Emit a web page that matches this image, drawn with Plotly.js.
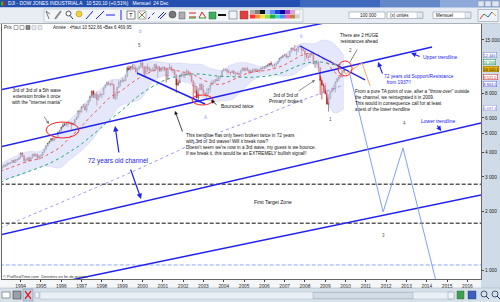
<!DOCTYPE html>
<html><head><meta charset="utf-8">
<script src="https://cdn.plot.ly/plotly-3.0.1.min.js"></script>
<style>html,body{margin:0;padding:0;background:#fff;}#chart{width:500px;height:302px;}</style>
</head><body><div id="chart"></div>
<script>
// ---------- DATA (monthly DJI, Jan 1993 - Dec 2009) ----------
const startYear = 1993;
const opens = [
3301,3310,3370,3435,3428,3527,3516,3540,3651,3555,3681,3684,
3754,3978,3832,3636,3682,3758,3625,3765,3913,3843,3908,3739,
3834,3844,4011,4158,4321,4465,4556,4709,4611,4789,4756,5075,
5117,5395,5486,5587,5569,5643,5655,5529,5616,5882,6029,6522,
6448,6813,6878,6584,7009,7331,7673,8223,7622,7945,7442,7823,
7908,7907,8546,8800,9063,8900,8952,8883,7539,7843,8592,9117,
9181,9359,9307,9786,10789,10560,10971,10655,10829,10337,10729,10878,
11497,10941,10128,10922,10734,10522,10448,10522,11215,10651,10971,10415,
10787,10887,10495,9879,10735,10912,10502,10523,9950,8848,9075,9852,
10021,9920,10106,10404,9946,9925,9243,8737,8664,7592,8397,8896,
8342,8054,7891,7992,8480,8850,8985,9234,9416,9275,9801,9782,
10454,10488,10584,10358,10226,10188,10435,10140,10174,10080,10027,10428,
10783,10490,10766,10504,10193,10467,10275,10641,10482,10569,10440,10806,
10718,10865,10993,11109,11367,11168,11150,11186,11381,11679,12081,12222,
12463,12622,12269,12354,13063,13628,13409,13212,13358,13896,13930,13372,
13265,12650,12266,12263,12820,12638,11350,11378,11544,10851,9325,8829,
8776,8001,7063,7609,8168,8500,8447,9172,9496,9712,9713,10345];
const highs = [
3340,3450,3480,3490,3555,3560,3580,3660,3670,3700,3720,3800,
3990,3990,3900,3730,3790,3820,3790,3930,3980,3960,3920,3880,
3930,4030,4170,4330,4470,4590,4730,4720,4800,4810,5110,5220,
5400,5680,5690,5700,5800,5730,5730,5720,5900,6100,6560,6600,
6880,7080,7110,7070,7400,7800,8260,8300,8000,8180,7900,8150,
7990,8560,8900,9200,9210,9070,9370,8960,8170,8650,9400,9380,
9650,9560,10010,11000,11110,11000,11250,11330,11100,10800,11090,11570,
11750,11040,11140,11400,11040,10830,10870,11320,11400,11000,11010,10900,
11000,11000,10860,10850,11350,11110,10690,10610,9990,9420,9950,10200,
10260,10160,10670,10500,10360,9990,9410,9080,8740,8540,9040,9040,
8870,8110,8520,8520,8900,9330,9340,9460,9690,9840,9880,10480,
10750,10750,10700,10600,10330,10500,10440,10240,10370,10240,10580,10870,
10860,10850,10980,10620,10560,10720,10720,10720,10720,10600,10940,10990,
11050,11140,11340,11420,11670,11240,11250,11400,11730,12160,12360,12530,
12660,12800,12480,13120,13690,13690,14120,13660,14000,14200,13940,13800,
13280,12770,12620,12890,13140,12640,11700,11870,11790,10880,9650,9030,
9090,8280,7930,8220,8580,8880,9200,9630,9920,10120,10500,10523];
const lows = [
3240,3300,3370,3370,3420,3460,3480,3530,3530,3550,3600,3670,
3730,3800,3590,3520,3620,3610,3620,3730,3820,3780,3670,3660,
3810,3840,3990,4150,4300,4430,4540,4560,4600,4700,4750,5040,
5000,5380,5460,5420,5400,5580,5170,5500,5560,5860,6010,6240,
6400,6760,6560,6390,6950,7230,7640,7600,7580,6940,7380,7650,
7550,7870,8500,8750,8850,8630,8850,7500,7400,7470,8550,8690,
9100,9130,9300,9700,10470,10400,10620,10600,10190,9880,10540,10860,
10640,9730,9790,10300,10300,10300,10400,10500,10580,9650,10300,10300,
10400,10400,9100,9390,10600,10390,10150,9890,8060,8750,9060,9700,
9620,9570,10060,9910,9800,9120,7530,8040,7580,7200,8290,8300,
7950,7700,7420,7930,8130,8800,8960,9000,9260,9280,9500,9760,
10390,10400,10000,10190,9850,10180,9920,9780,10000,9710,10020,10400,
10360,10370,10400,10010,10100,10260,10250,10350,10360,10160,10400,10660,
10660,10750,10900,11000,11030,10700,10680,10940,11300,11640,11980,12150,
12350,12120,11940,12330,13050,13250,13200,12520,12980,13690,12720,13130,
11630,12040,11730,12200,12480,11290,10830,11200,10360,7880,7450,8120,
7910,7000,6470,7470,8090,8220,8090,9110,9250,9680,9680,10230];
const closes = [
3310,3370,3435,3428,3527,3516,3540,3651,3555,3681,3684,3754,
3978,3832,3636,3682,3758,3625,3765,3913,3843,3908,3739,3834,
3844,4011,4158,4321,4465,4556,4709,4611,4789,4756,5075,5117,
5395,5486,5587,5569,5643,5655,5529,5616,5882,6029,6522,6448,
6813,6878,6584,7009,7331,7673,8223,7622,7945,7442,7823,7908,
7907,8546,8800,9063,8900,8952,8883,7539,7843,8592,9117,9181,
9359,9307,9786,10789,10560,10971,10655,10829,10337,10729,10878,11497,
10941,10128,10922,10734,10522,10448,10522,11215,10651,10971,10415,10787,
10887,10495,9879,10735,10912,10502,10523,9950,8848,9075,9852,10021,
9920,10106,10404,9946,9925,9243,8737,8664,7592,8397,8896,8342,
8054,7891,7992,8480,8850,8985,9234,9416,9275,9801,9782,10454,
10488,10584,10358,10226,10188,10435,10140,10174,10080,10027,10428,10783,
10490,10766,10504,10193,10467,10275,10641,10482,10569,10440,10806,10718,
10865,10993,11109,11367,11168,11150,11186,11381,11679,12081,12222,12463,
12622,12269,12354,13063,13628,13409,13212,13358,13896,13930,13372,13265,
12650,12266,12263,12820,12638,11350,11378,11544,10851,9325,8829,8776,
8001,7063,7609,8168,8500,8447,9172,9496,9712,9713,10345,10520];

// Indicators, read at half-year points
const bandDates = [1993.0,1993.42,1993.92,1994.42,1994.92,1995.42,1995.92,1996.42,1996.92,1997.42,1997.92,1998.42,1998.92,1999.42,1999.92,2000.42,2000.92,2001.42,2001.92,2002.42,2002.92,2003.42,2003.92,2004.42,2004.92,2005.42,2005.92,2006.42,2006.92,2007.42,2007.92,2008.42,2008.92,2009.42,2009.92];
const bbUpper = [3500,3700,3900,4050,4050,4500,5137,5868,6640,7624,8377,9373,9523,10791,11914,11721,11570,11419,11428,11291,11263,10693,10536,11270,11531,11296,10937,11378,12407,13758,14428,14352,14995,14375,12440];
const bbLower = [2900,2950,3050,3200,3380,3400,3337,3668,4040,4504,5257,5973,6923,7191,7514,8921,9770,9819,9228,8891,7663,7293,7336,7470,8331,9296,9937,9978,9807,9958,10828,11352,8995,6375,6697];
const ma20 = [3200,3325,3475,3625,3715,3950,4237,4768,5340,6064,6817,7673,8223,8991,9714,10321,10670,10619,10328,10091,9463,8993,8936,9370,9931,10296,10437,10678,11107,11858,12628,12852,11995,10375,9521];
const ma50 = [2814,2950,3078,3210,3350,3522,3746,4034,4360,4801,5314,5911,6480,7205,7947,8582,9171,9618,9875,10056,10038,9892,9781,9745,9692,9682,9762,9913,10259,10818,11332,11594,11532,11241,11206];
const ma200Dates = [1993.0,1999.14,2003.47,2005.3,2007.76,2009.24,2009.92];
const ma200 = [1648,3072,4914,5791,7324,8337,8863];

// Drawn trend lines / levels (year, value)
const upperChannelX = [1992.98, 2016.7],  upperChannelY = [8340, 26850];
const midChannelX   = [1992.98, 2014.26], midChannelY   = [4267, 13815];
const lowerChannelX = [1992.98, 2016.68], lowerChannelY = [1518, 5656];
const baseChannelX  = [1992.98, 2016.68], baseChannelY  = [752, 2428];
const fall2000X = [1999.73, 2003.08], fall2000Y = [10179, 7071];
const fall2007X = [2007.76, 2010.96], fall2007Y = [13978, 9376];
const projX = [2010.22, 2011.85, 2012.83, 2014.56], projY = [9943, 1988, 4217, 795];
const orangeX = [2009.24, 2010.03, 2010.81, 2011.21], orangeY = [11858, 10060, 11455, 8740];
const targetLevels = [2753, 1741];
const blueLevel = [1067];

const yearTicks = [1994,1995,1996,1997,1998,1999,2000,2001,2002,2003,2004,2005,2006,2007,2008,2009,2010,2011,2012,2013,2014,2015,2016];
const priceTicks = [1000,2000,3000,4000,5000,6000,8000,15000];
const priceTickText = ['1 000','2 000','3 000','4 000','5 000','6 000','8 000','15 000'];
const sideLabels = ['12 440','11 206','10 520,1','9 521,0','8 863,5','6 697,3'];

// ---------- BUILD ----------
const FONT = 'Liberation Sans, Arial, sans-serif';
const months = closes.map((_, i) => startYear + i / 12);
const X0 = 1993.08, X1 = 2016.67;
const BLUE = '#2020f0', LBLUE = '#7ea0ff';

function ln(x, y, color, width, dash, shape) {
  return {type:'scatter', mode:'lines', x, y, line:{color, width, dash: dash || 'solid', shape: shape || 'linear'}, hoverinfo:'skip', showlegend:false};
}
const traces = [
  ln(bandDates, bbLower, 'rgba(170,175,235,0.5)', 0.5, 'solid', 'spline'),
  Object.assign(ln(bandDates, bbUpper, 'rgba(170,175,235,0.5)', 0.5, 'solid', 'spline'), {fill:'tonexty', fillcolor:'rgba(212,215,247,0.6)'}),
  ln(ma200Dates, ma200, '#8c8cf0', 0.9, 'dot', 'spline'),
  ln(bandDates, ma50, '#1faa78', 1, 'dot', 'spline'),
  ln(bandDates, ma20, '#ee5a5a', 1, 'dot', 'spline'),
  {type:'candlestick', x:months, open:opens, high:highs, low:lows, close:closes, whiskerwidth:0,
   increasing:{line:{color:'#3a3a3a', width:0.6}, fillcolor:'#ffffff'},
   decreasing:{line:{color:'#b00000', width:0.6}, fillcolor:'#ff1010'}, hoverinfo:'skip', showlegend:false},
  ln([X0 - 1, X1 + 1], [targetLevels[0], targetLevels[0]], '#5a5a5a', 1.5, '4px,2px'),
  ln([X0 - 1, X1 + 1], [targetLevels[1], targetLevels[1]], '#5a5a5a', 1.5, '4px,2px'),
  ln([X0 - 1, X1 + 1], [blueLevel[0], blueLevel[0]], '#8aa6ff', 1, '4px,2px'),
  ln(upperChannelX, upperChannelY, BLUE, 1.5),
  ln(midChannelX, midChannelY, BLUE, 1.5),
  ln(lowerChannelX, lowerChannelY, BLUE, 1.5),
  ln(baseChannelX, baseChannelY, BLUE, 1.5),
  ln(fall2000X, fall2000Y, BLUE, 1.4),
  ln(fall2007X, fall2007Y, BLUE, 1.4),
  ln(projX, projY, LBLUE, 1),
  ln(orangeX, orangeY, '#ff9a55', 0.9)
];

// paper helpers for the surrounding application chrome
const PX = x => (x - 2) / 479, PY = y => (279 - y) / 255;
function rect(x0, y0, x1, y1, fill, line, lw, layer) {
  return {type:'rect', xref:'paper', yref:'paper', x0:PX(x0), x1:PX(x1), y0:PY(y1), y1:PY(y0),
    fillcolor:fill, line:{color:line || fill, width: lw == null ? 0 : lw}, layer: layer || 'above'};
}
function seg(x0, y0, x1, y1, color, w, dash) {
  return {type:'line', xref:'paper', yref:'paper', x0:PX(x0), x1:PX(x1), y0:PY(y0), y1:PY(y1), line:{color, width:w || 1, dash: dash || 'solid'}, layer:'above'};
}
function circ(x0, y0, x1, y1, fill, line, lw) {
  return {type:'circle', xref:'paper', yref:'paper', x0:PX(x0), x1:PX(x1), y0:PY(y1), y1:PY(y0), fillcolor:fill, line:{color:line, width:lw || 0.6}, layer:'above'};
}
function ptxt(text, x, y, size, color, anchor) {
  return {xref:'paper', yref:'paper', x:PX(x), y:PY(y), text, showarrow:false, xanchor:anchor || 'left', yanchor:'middle',
    borderpad:0, font:{family:FONT, size:size || 5, color:color || '#111'}};
}

const shapes = [
  // ellipses drawn on the chart
  {type:'circle', xref:'x', yref:'y', x0:1995.25, x1:1996.87, y0:4745, y1:5724, line:{color:'#ff2020', width:1}, layer:'above'},
  {type:'circle', xref:'x', yref:'y', x0:2002.44, x1:2003.47, y0:6988, y1:7862, line:{color:'#ff2020', width:1}, layer:'above'},
  {type:'circle', xref:'x', yref:'y', x0:2009.63, x1:2010.32, y0:9827, y1:11722, line:{color:'#ff2020', width:1}, layer:'above'},
  // right price panel
  rect(481, 23.5, 500, 288, '#cfdbe6', null, 0, 'below'),
  // title bar
  rect(0, 0, 500, 7.5, '#2350b0'),
  rect(300, 0, 380, 7.5, '#3e68bc'),
  rect(380, 0, 440, 7.5, '#6387c8'),
  rect(440, 0, 500, 7.5, '#8eaadb'),
  rect(1, 1.5, 3, 5.5, '#20c020'), rect(3, 1.5, 5, 5.5, '#e02020'),
  rect(478, 1, 484, 6.5, '#dfe6ef', '#7f93b5', 0.5), rect(485, 1, 491, 6.5, '#dfe6ef', '#7f93b5', 0.5), rect(492, 1, 499, 6.5, '#dfe6ef', '#7f93b5', 0.5),
  // top toolbar
  rect(0, 7.5, 500, 23.5, '#e7edf3'),
  seg(0, 23.5, 500, 23.5, '#aab6c2', 0.6),
  rect(44, 9, 303, 22, '#f3f6f9', '#aeb9c5', 0.6),
  seg(46, 11, 49, 19, '#555', 0.8), seg(46, 11, 50, 14, '#555', 0.8),
  seg(55, 19, 61, 11, '#8a8a8a', 2),
  circ(66, 11, 71, 16, 'rgba(0,0,0,0)', '#333', 0.8), seg(70, 15.5, 73, 19, '#333', 1),
  circ(76, 11, 82, 17, '#f4d23c', '#a08000', 0.5),
  seg(86, 19, 93, 11, BLUE, 1), seg(96, 19, 104, 11, BLUE, 1),
  seg(106, 15, 115, 15, BLUE, 1), seg(121, 10, 121, 20, BLUE, 1),
  rect(127, 11, 135, 19, '#ffffff', '#333', 0.6),
  rect(138, 11, 146, 19, '#ffffff', '#555', 0.5), seg(139, 18, 145, 12, '#20a020', 1), seg(139, 12, 145, 18, '#e02020', 0.7),
  seg(148, 19, 156, 11, BLUE, 1, 'dot'), seg(158, 18, 164, 12, BLUE, 1), seg(160, 19, 166, 13, BLUE, 1),
  circ(169, 11, 176, 18, '#777', '#333', 0.5),
  rect(179, 12, 185, 19, '#b0b0b0', '#555', 0.5),
  seg(189, 13, 196, 13, '#e02020', 1), seg(189, 17, 196, 17, '#e02020', 1), seg(189, 18, 196, 18, '#20a020', 1),
  seg(199, 18, 202, 12, '#e02020', 1), seg(202, 12, 206, 18, '#e02020', 1), seg(199, 18, 206, 18, '#20a020', 1),
  rect(209, 12, 216, 19, '#40b060', '#206030', 0.5),
  seg(218, 15, 226, 15, '#111', 2),
  rect(229, 11, 237, 19, '#f0f4f8', '#567', 0.6),
  rect(240, 11, 248, 19, '#e04040', '#933', 0.5),
  // colour palette
  rect(250, 10, 255, 14, '#b0b0b0'), rect(255, 10, 260, 14, '#808080'), rect(260, 10, 265, 14, '#101010'),
  rect(265, 10, 270, 14, '#9fc8ff'), rect(270, 10, 275, 14, '#5a8cff'), rect(275, 10, 280, 14, '#1f40e0'),
  rect(280, 10, 285, 14, '#0000a0'), rect(285, 10, 290, 14, '#a040c0'), rect(290, 10, 295, 14, '#e0a0e0'),
  rect(295, 10, 300, 14, '#ffffff', '#bbb', 0.4),
  rect(250, 14.5, 255, 18.5, '#ff3030'), rect(255, 14.5, 260, 18.5, '#ff9040'), rect(260, 14.5, 265, 18.5, '#ffe040'),
  rect(265, 14.5, 270, 18.5, '#90e060'), rect(270, 14.5, 275, 18.5, '#20b040'), rect(275, 14.5, 280, 18.5, '#40d0d0'),
  rect(280, 14.5, 285, 18.5, '#4090ff'), rect(285, 14.5, 290, 18.5, '#ff60a0'), rect(290, 14.5, 295, 18.5, '#c08040'),
  rect(295, 14.5, 300, 18.5, '#d0d0d0'),
  // input boxes
  rect(349, 12, 385, 18.5, '#ffffff', '#8c9aa8', 0.6),
  rect(387, 12, 423, 18.5, '#ffffff', '#8c9aa8', 0.6), rect(417, 12.5, 422.5, 18, '#e4eaf0', '#9aa8b6', 0.4),
  rect(433, 12, 471, 18.5, '#ffffff', '#8c9aa8', 0.6), rect(465, 12.5, 470.5, 18, '#e4eaf0', '#9aa8b6', 0.4),
  rect(478, 9.5, 498, 21.5, '#eef3f8', '#8c9aa8', 0.6),
  seg(480, 19, 484, 14, '#e03030', 1), seg(484, 14, 488, 17, '#20a040', 1), seg(488, 17, 492, 12, '#3050e0', 1), seg(492, 12, 496, 16, '#e0a020', 1),
  // header row icons
  rect(14, 25.5, 18, 29.5, '#ffffff', '#555', 0.5), rect(20, 25.5, 24, 29.5, '#ffffff', '#555', 0.5),
  rect(26, 25.5, 30, 29.5, '#888', '#444', 0.5), rect(32, 25.5, 36, 29.5, '#e6ecf0', '#aab', 0.5), rect(38, 25.5, 42, 29.5, '#e6ecf0', '#aab', 0.5),
  // bottom toolbar
  rect(0, 288, 500, 302, '#d7e1ea'),
  seg(0, 288, 500, 288, '#aab6c2', 0.6),
  rect(2, 292, 10, 298, '#ffffff', '#555', 0.6),
  rect(13, 291, 21, 299, '#9aa0a8', '#444', 0.6),
  rect(23, 289, 33, 301, '#c3d2e6', '#7c90ac', 0.6), seg(25, 291, 31, 299, '#e02020', 1.3), seg(31, 291, 25, 299, '#e02020', 1.3),
  rect(35, 292, 39, 298, '#f0f4f8', '#8898a8', 0.5),
  rect(40, 292, 452, 299, '#eaf0f5', '#aab6c2', 0.5),
  rect(313, 292.5, 413, 298.5, '#d2dce6', '#9aa8b6', 0.5),
  rect(448, 292, 454, 299, '#f0f4f8', '#8898a8', 0.5),
  rect(457, 291, 464, 299, '#40a050', '#206030', 0.4),
  rect(468, 291, 476, 299, '#4060c0', '#203060', 0.4),
  circ(481, 291, 487, 297, 'rgba(0,0,0,0)', '#203060', 0.8), seg(486, 296, 489, 299, '#203060', 1),
  circ(492, 291, 498, 297, 'rgba(0,0,0,0)', '#203060', 0.8), seg(497, 296, 500, 299, '#203060', 1)
];

// multi-line note anchored at its middle (y given as log10 of price)
function note(lines, x, y, anchor, color, size) {
  return {xref:'x', yref:'y', x, y, text:lines.join('<br>'), showarrow:false, align:anchor === 'center' ? 'center' : 'left',
    xanchor:anchor, yanchor:'middle', borderpad:0, font:{family:FONT, size:size || 4.6, color:color || '#111'}};
}
function arrow(x, y, ax, ay, color, w, head, size) {
  return {xref:'x', yref:'y', x, y, ax, ay, axref:'pixel', ayref:'pixel', text:'', showarrow:true,
    arrowcolor:color, arrowwidth:w, arrowhead:head, arrowsize:size, standoff:0, startstandoff:0};
}
function wave(text, x, y, color) {
  return {xref:'x', yref:'y', x, y, text, showarrow:false, xanchor:'center', yanchor:'middle', borderpad:0, font:{family:FONT, size:4.5, color}};
}
function sideBox(text, y, color, bg, border) {
  return {xref:'paper', yref:'y', x:PX(482.5), y, text, showarrow:false, xanchor:'left', yanchor:'middle',
    font:{family:FONT, size:3.9, color}, bgcolor:bg, bordercolor:border, borderwidth:0.5, borderpad:0};
}

const annotations = [
  note(['3rd of 3rd of a 5th wave', 'extension broke it once', 'with the "internet mania"'], 1994.80, 3.8868, 'center'),
  note(['This trendline has only been broken twice in 72 years', 'with 3rd of 3rd waves! Will it break now?',
        "Doesn't seem we're now in a 3rd wave, my guess is we bounce.", 'If we break it, this would be an EXTREMELY bullish signal!!'],
       2002.09, 3.6411, 'left'),
  note(['From a pure TA point of vue, after a "throw-over" outside', 'the channel, we reintegrated it in 2009.',
        'This would in consequence call for at least', 'a test of the lower trendline'], 2010.42, 3.8699, 'left'),
  note(['There are 2 HUGE', 'resistances ahead'], 2010.67, 4.1819, 'center'),
  note(['3rd of 3rd of', 'Primary! broke it'], 2007.07, 3.8758, 'center'),
  note(['Bounced twice'], 2003.82, 3.8393, 'left', '#111', 5),
  note(['72 years old channel'], 1998.84, 3.5603, 'center', BLUE, 6.5),
  note(['72 years old Support/Resistance', '&nbsp;&nbsp;from 1937!!'], 2011.85, 3.9745, 'left', BLUE, 4.8),
  note(['Upper trendline'], 2013.77, 4.0893, 'left', BLUE, 5),
  note(['Lower trendline'], 2013.67, 3.7628, 'left', BLUE, 5),
  note(['First Target Zone'], 2005.44, 3.3480, 'left', '#111', 5),
  arrow(1995.395, 3.7475, -6, -9, '#777', 0.8, 2, 0.8),
  arrow(2003.375, 3.8699, 7, 6, '#111', 0.8, 2, 0.9),
  arrow(2001.60, 3.8138, 8, 22, '#111', 0.8, 2, 0.9),
  arrow(2008.50, 3.9720, -18, 12, '#777', 0.8, 2, 0.8),
  arrow(2010.22, 4.0638, 8, -14, '#333', 0.6, 0, 1),
  arrow(1998.65, 3.7373, 4, 28, BLUE, 1.2, 2, 0.9),
  arrow(1999.93, 3.3648, -11, -31, BLUE, 1.2, 2, 0.9),
  arrow(2011.60, 4.0638, 5, 13, BLUE, 1.1, 2, 0.9),
  arrow(2013.23, 4.1097, 10, 4, BLUE, 1.1, 2, 0.9),
  arrow(2014.71, 3.7118, -5, -7, BLUE, 1.1, 2, 0.9),
  wave('b', 1999.88, 4.2220, LBLUE), wave('5', 1999.83, 4.1455, '#555'),
  wave('b', 2007.81, 4.1914, LBLUE), wave('2', 2010.22, 4.1250, '#555'),
  wave('A', 2003.08, 3.7832, LBLUE), wave('1', 2009.24, 3.7679, '#555'),
  wave('4', 2012.88, 3.7475, '#555'), wave('3', 2011.85, 3.1761, '#555'),
  sideBox(sideLabels[0], 4.0995, '#3050c0', '#ffffff', '#6a7ed0'),
  sideBox(sideLabels[1], 4.0613, '#1a9060', '#eaf6ef', '#1a9060'),
  sideBox(sideLabels[2], 4.0256, '#111', '#e8b400', '#8a6a00'),
  sideBox(sideLabels[3], 3.9898, '#d02020', '#ffffff', '#d02020'),
  sideBox(sideLabels[4], 3.9541, '#3030e0', '#ffffff', '#6060e0'),
  sideBox(sideLabels[5], 3.8291, '#7070d0', '#ffffff', '#9090e0'),
  ptxt('DJI - DOW JONES INDUSTRIAL A &nbsp; 10 520,10 (+0,51%) &nbsp; Mensuel &nbsp;24 Dec', 7, 3.9, 4.8, '#ffffff'),
  ptxt('T', 131, 15, 6, '#111', 'center'),
  ptxt('100 000', 378, 15.3, 4.5, '#111', 'right'),
  ptxt('(x) unités', 389, 15.3, 4.5, '#111'),
  ptxt('Mensuel', 435, 15.3, 4.5, '#111'),
  ptxt('Prix', 3, 27.5, 4.5, '#222'),
  ptxt('Année : •Haut 10 522,66 •Bas 6 469,95', 52, 27.8, 4.5, '#222'),
  ptxt('© ProRealTime.com  Données en fin de journée', 2, 276.5, 4, '#333')
];

const layout = {
  width:500, height:302,
  margin:{l:2, r:19, t:24, b:23, pad:0},
  paper_bgcolor:'#f4f6f8', plot_bgcolor:'#ffffff',
  showlegend:false,
  font:{family:FONT, size:5, color:'#222'},
  xaxis:{type:'linear', range:[X0, X1], tickvals:yearTicks, ticktext:yearTicks.map(String),
    ticks:'outside', ticklen:2, tickcolor:'#444', tickfont:{size:4.8, color:'#222', family:FONT},
    showgrid:false, zeroline:false, showline:true, linecolor:'#666', linewidth:1, mirror:true,
    rangeslider:{visible:false}, fixedrange:true},
  yaxis:{type:'log', side:'right', range:[2.9566, 4.2577], tickvals:priceTicks, ticktext:priceTickText,
    ticks:'outside', ticklen:2, tickcolor:'#444', tickfont:{size:4.8, color:'#222', family:FONT},
    showgrid:false, zeroline:false, showline:true, linecolor:'#666', linewidth:1, mirror:true, fixedrange:true},
  shapes, annotations
};
Plotly.newPlot('chart', traces, layout, {displayModeBar:false, staticPlot:true});
</script></body></html>
